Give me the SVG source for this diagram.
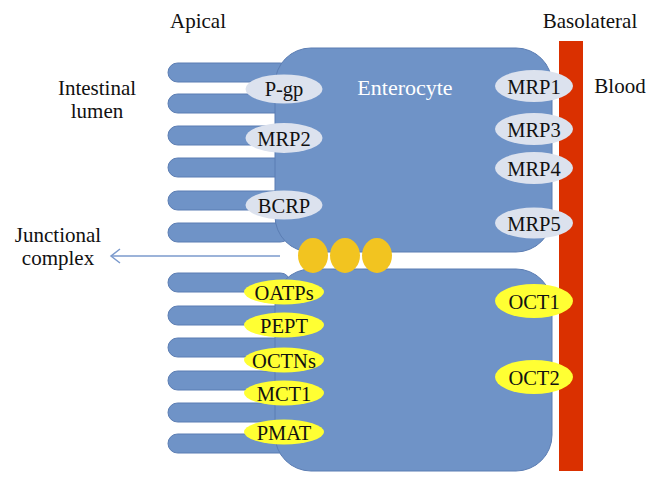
<svg xmlns="http://www.w3.org/2000/svg" width="658" height="485" viewBox="0 0 658 485">
<defs>
<style>
text{font-family:"Liberation Serif","DejaVu Serif",serif;font-size:21px;fill:#111;text-anchor:middle}
.lab{font-size:20.5px}
.vil{fill:#6F93C7;stroke:#5B7DB3;stroke-width:1}
.cell{fill:#6F93C7;stroke:#5B7DB3;stroke-width:1}
.grey{fill:#DCE2EE}
.yel{fill:#FFFF33}
.junc{fill:#F2C420}
.conn{stroke:#7B9ACD;stroke-width:1.5;fill:none}
</style>
</defs>
<rect width="658" height="485" fill="#fff"/>
<g id="villi">
<rect class="vil" x="168" y="63" width="122" height="19" rx="9.5"/>
<rect class="vil" x="168" y="94" width="122" height="19" rx="9.5"/>
<rect class="vil" x="168" y="126" width="122" height="19" rx="9.5"/>
<rect class="vil" x="168" y="158" width="122" height="19" rx="9.5"/>
<rect class="vil" x="168" y="191" width="122" height="19" rx="9.5"/>
<rect class="vil" x="168" y="223" width="122" height="19" rx="9.5"/>
<rect class="vil" x="168" y="273" width="122" height="19" rx="9.5"/>
<rect class="vil" x="168" y="306" width="122" height="19" rx="9.5"/>
<rect class="vil" x="168" y="338" width="122" height="19" rx="9.5"/>
<rect class="vil" x="168" y="371" width="122" height="19" rx="9.5"/>
<rect class="vil" x="168" y="403" width="122" height="19" rx="9.5"/>
<rect class="vil" x="168" y="434" width="122" height="19" rx="9.5"/>
</g>
<g id="enterocyte">
<rect class="cell" x="275" y="48" width="277" height="204" rx="36"/>
<text x="405" y="95" style="fill:#fff;font-size:22px">Enterocyte</text>
</g>
<g id="enterocyte2">
<rect class="cell" x="275" y="269" width="277" height="202" rx="36"/>
</g>
<g id="blood-vessel">
<rect x="559" y="41" width="24" height="430" fill="#DA3000"/>
</g>
<g id="connectors">
<line class="conn" x1="112" y1="256" x2="280" y2="256"/>
<polyline class="conn" points="120,249 111,256 120,263"/>
</g>
<g id="junctional-complex">
<ellipse class="junc" cx="313" cy="255.5" rx="15" ry="17.5"/>
<ellipse class="junc" cx="345" cy="255.5" rx="15" ry="17.5"/>
<ellipse class="junc" cx="377" cy="255.5" rx="15" ry="17.5"/>
</g>
<g id="P-gp"><ellipse class="grey" cx="284" cy="89" rx="38.5" ry="14.5"/><text class="lab" x="284" y="96">P-gp</text></g>
<g id="MRP2"><ellipse class="grey" cx="284" cy="138" rx="38.5" ry="15"/><text class="lab" x="284" y="145.5">MRP2</text></g>
<g id="BCRP"><ellipse class="grey" cx="284" cy="205" rx="38.5" ry="14.5"/><text class="lab" x="284" y="212.5">BCRP</text></g>
<g id="OATPs"><ellipse class="yel" cx="284" cy="292" rx="40" ry="12.5"/><text class="lab" x="284" y="299.5">OATPs</text></g>
<g id="PEPT"><ellipse class="yel" cx="284" cy="325" rx="40" ry="12.5"/><text class="lab" x="284" y="332.5">PEPT</text></g>
<g id="OCTNs"><ellipse class="yel" cx="284" cy="360" rx="40" ry="12.5"/><text class="lab" x="284" y="367.5">OCTNs</text></g>
<g id="MCT1"><ellipse class="yel" cx="284" cy="393" rx="40" ry="12.5"/><text class="lab" x="284" y="400.5">MCT1</text></g>
<g id="PMAT"><ellipse class="yel" cx="284" cy="432" rx="40" ry="12.5"/><text class="lab" x="284" y="439.5">PMAT</text></g>
<g id="MRP1"><ellipse class="grey" cx="534" cy="86" rx="39" ry="16"/><text class="lab" x="534" y="93.5">MRP1</text></g>
<g id="MRP3"><ellipse class="grey" cx="534" cy="129" rx="39" ry="16"/><text class="lab" x="534" y="136.5">MRP3</text></g>
<g id="MRP4"><ellipse class="grey" cx="534" cy="168" rx="39" ry="16"/><text class="lab" x="534" y="175.5">MRP4</text></g>
<g id="MRP5"><ellipse class="grey" cx="534" cy="223" rx="39" ry="15.5"/><text class="lab" x="534" y="230.5">MRP5</text></g>
<g id="OCT1"><ellipse class="yel" cx="534" cy="301" rx="39" ry="17"/><text class="lab" x="534" y="308.5">OCT1</text></g>
<g id="OCT2"><ellipse class="yel" cx="534" cy="377" rx="39" ry="17"/><text class="lab" x="534" y="384.5">OCT2</text></g>
<g id="labels">
<text x="198" y="28">Apical</text>
<text x="590" y="28">Basolateral</text>
<text x="620" y="93">Blood</text>
<text x="97" y="95">Intestinal</text>
<text x="97" y="118">lumen</text>
<text x="58" y="242">Junctional</text>
<text x="58" y="265">complex</text>
</g>
</svg>
